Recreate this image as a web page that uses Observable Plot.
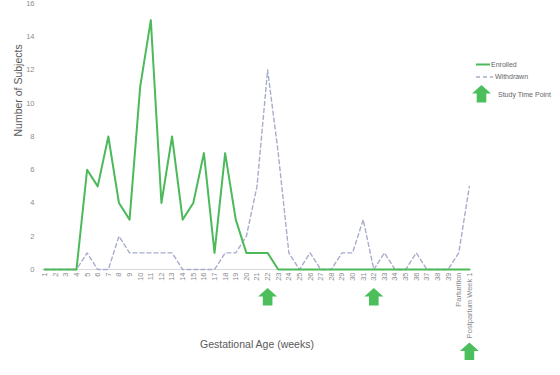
<!DOCTYPE html>
<html>
<head>
<meta charset="utf-8">
<script src="https://cdn.jsdelivr.net/npm/d3@7"></script>
<script src="https://cdn.jsdelivr.net/npm/@observablehq/plot@0.6"></script>
<style>
  html, body { margin: 0; padding: 0; background: #fff; }
  #wrap { position: relative; width: 560px; height: 375px; font-family: "Liberation Sans", Arial, sans-serif; }
  #legend { position: absolute; left: 470px; top: 55px; }
</style>
</head>
<body>
<div id="wrap"></div>
<script>
const weeks = ["1","2","3","4","5","6","7","8","9","10","11","12","13","14","15","16","17","18","19","20",
  "21","22","23","24","25","26","27","28","29","30","31","32","33","34","35","36","37","38","39",
  "Parturition","Postpartum Week 1"];
const enrolled = [0,0,0,0,6,5,8,4,3,11,15,4,8,3,4,7,1,7,3,1,1,1,
  0,0,0,0,0,0,0,0,0,0,0,0,0,0,0,0,0,0,0];
const withdrawn = [0,0,0,0,1,0,0,2,1,1,1,1,1,0,0,0,0,1,1,2,5,12,
  7,1,0,1,0,0,1,1,3,0,1,0,0,1,0,0,0,1,5];
const yTicks = [0,2,4,6,8,10,12,14,16];
const timePoints = ["22","32"];
const timePointsLate = ["Postpartum Week 1"];
const seriesNames = ["Enrolled","Withdrawn","Study Time Point"];

const green = "#4cb95a";
const arrowGreen = "#4cbf5c";
const blue = "#a7adcb";

const enrolledData = weeks.map((w,i) => ({week:w, value:enrolled[i]}));
const withdrawnData = weeks.map((w,i) => ({week:w, value:withdrawn[i]}));

const arrow = {
  draw(ctx) {
    ctx.moveTo(0,-9);
    ctx.lineTo(9.5,-0.5);
    ctx.lineTo(4.8,-0.5);
    ctx.lineTo(4.8,8.5);
    ctx.lineTo(-4.8,8.5);
    ctx.lineTo(-4.8,-0.5);
    ctx.lineTo(-9.5,-0.5);
    ctx.closePath();
  }
};

const chart = Plot.plot({
  width: 560,
  height: 375,
  marginLeft: 42,
  marginRight: 89,
  marginTop: 3,
  marginBottom: 106,
  style: {fontFamily: "'Liberation Sans', Arial, sans-serif", fontSize: "7.5px", color: "#8c8c8c", background: "#fff", overflow: "visible"},
  x: {type: "point", domain: weeks, padding: 0.2, round: false},
  y: {domain: [0,16]},
  marks: [
    Plot.ruleY([0], {stroke: "#d9d9d9", strokeWidth: 1}),
    Plot.axisY({ticks: yTicks, tickSize: 0, tickPadding: 8, label: null, fontSize: 7.5}),
    Plot.axisX({tickSize: 0, tickPadding: 3, tickRotate: -90, label: null, fontSize: 7.5}),
    Plot.line(withdrawnData, {x: "week", y: "value", stroke: blue, strokeWidth: 1.4, strokeDasharray: "4,3"}),
    Plot.line(enrolledData, {x: "week", y: "value", stroke: green, strokeWidth: 2}),
    Plot.dot(timePoints, {x: d => d, frameAnchor: "bottom", dy: 27.5, symbol: arrow, fill: arrowGreen, stroke: "none"}),
    Plot.dot(timePointsLate, {x: d => d, frameAnchor: "bottom", dy: 82, symbol: arrow, fill: arrowGreen, stroke: "none"}),
    Plot.text(["Number of Subjects"], {frameAnchor: "left", dx: -24, rotate: -90, fontSize: 10.5, fill: "#595959"}),
    Plot.text(["Gestational Age (weeks)"], {frameAnchor: "bottom", dy: 78, fontSize: 10.5, fill: "#595959"})
  ]
});

const wrap = document.getElementById("wrap");
wrap.appendChild(chart);

// legend
const leg = d3.create("svg").attr("id","legend").attr("width", 90).attr("height", 50)
  .style("font-family", "'Liberation Sans', Arial, sans-serif").style("font-size", "7px");
leg.append("line").attr("x1", 6).attr("x2", 20).attr("y1", 9.5).attr("y2", 9.5)
  .attr("stroke", green).attr("stroke-width", 2);
leg.append("text").attr("x", 21).attr("y", 9.5).attr("dy", "0.35em").attr("fill", "#666").text(seriesNames[0]);
leg.append("line").attr("x1", 6).attr("x2", 23).attr("y1", 22).attr("y2", 22)
  .attr("stroke", blue).attr("stroke-width", 1.4).attr("stroke-dasharray", "4,3");
leg.append("text").attr("x", 25).attr("y", 22).attr("dy", "0.35em").attr("fill", "#666").text(seriesNames[1]);
leg.append("path").attr("transform", "translate(11.5,39)")
  .attr("d", d3.symbol(arrow)()).attr("fill", arrowGreen);
leg.append("text").attr("x", 28).attr("y", 39.5).attr("dy", "0.35em").attr("fill", "#666").text(seriesNames[2]);
wrap.appendChild(leg.node());
</script>
</body>
</html>
